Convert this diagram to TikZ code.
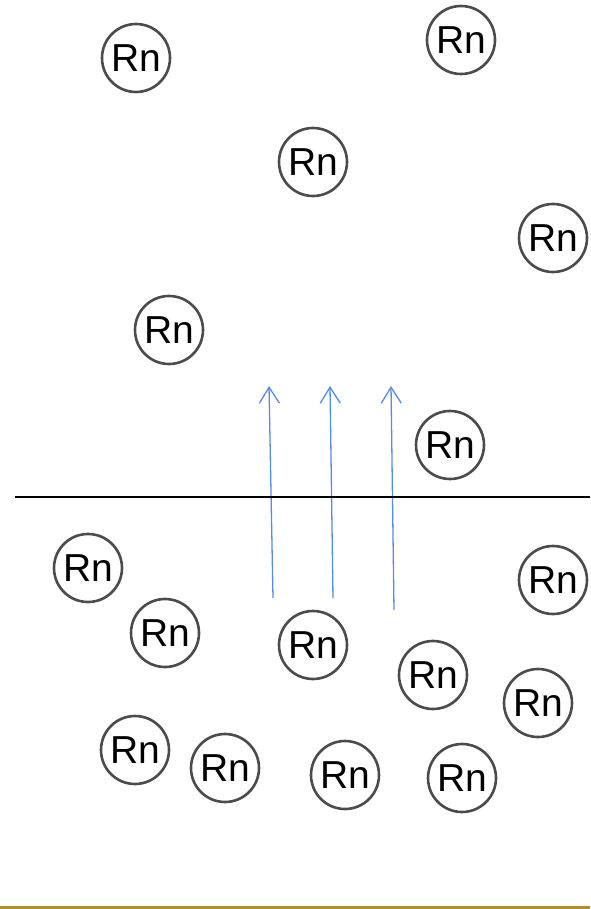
\documentclass[tikz,border=0pt]{standalone}
\usepackage{fontspec}
\setmainfont{Liberation Sans}
\usetikzlibrary{arrows.meta}
\definecolor{ringgray}{RGB}{75,75,75}
\definecolor{arrowblue}{RGB}{85,140,230}
\definecolor{rulebrown}{RGB}{185,135,50}
\begin{document}
\begin{tikzpicture}[x=1pt,y=-1pt,
  atom/.style={circle,draw=ringgray,line width=2.6pt,minimum size=68pt,inner sep=0pt,
    font=\fontsize{39}{39}\selectfont},
  flow/.style={draw=arrowblue,line width=1.3pt,-{Straight Barb[length=16pt,width=20pt,line width=1.3pt]}}]
\useasboundingbox (0,0) rectangle (590,909);
\foreach \n/\x/\y in {a/136/58, b/461/40, c/313/162, d/553/238, e/169/330, f/450/445,
  g/88/568, h/553/580, i/165/633, j/313/645, k/433/675, l/538/703,
  m/135/750, o/225/768, p/345/775, q/462/778}
  \node[atom] (\n) at (\x,\y) {Rn};
\coordinate (s1) at (273,598); \coordinate (t1) at (269,386);
\coordinate (s2) at (333,598); \coordinate (t2) at (330,386);
\coordinate (s3) at (394,610); \coordinate (t3) at (391,386);
\draw[flow] (s1) -- (t1);
\draw[flow] (s2) -- (t2);
\draw[flow] (s3) -- (t3);
\coordinate (hl) at (15,497); \coordinate (hr) at (590,497);
\draw[line width=1.2pt,black] (hl) -- (hr);
\coordinate (bl) at (0,907.5); \coordinate (br) at (590,907.5);
\draw[rulebrown,line width=3pt] (bl) -- (br);
\end{tikzpicture}
\end{document}
